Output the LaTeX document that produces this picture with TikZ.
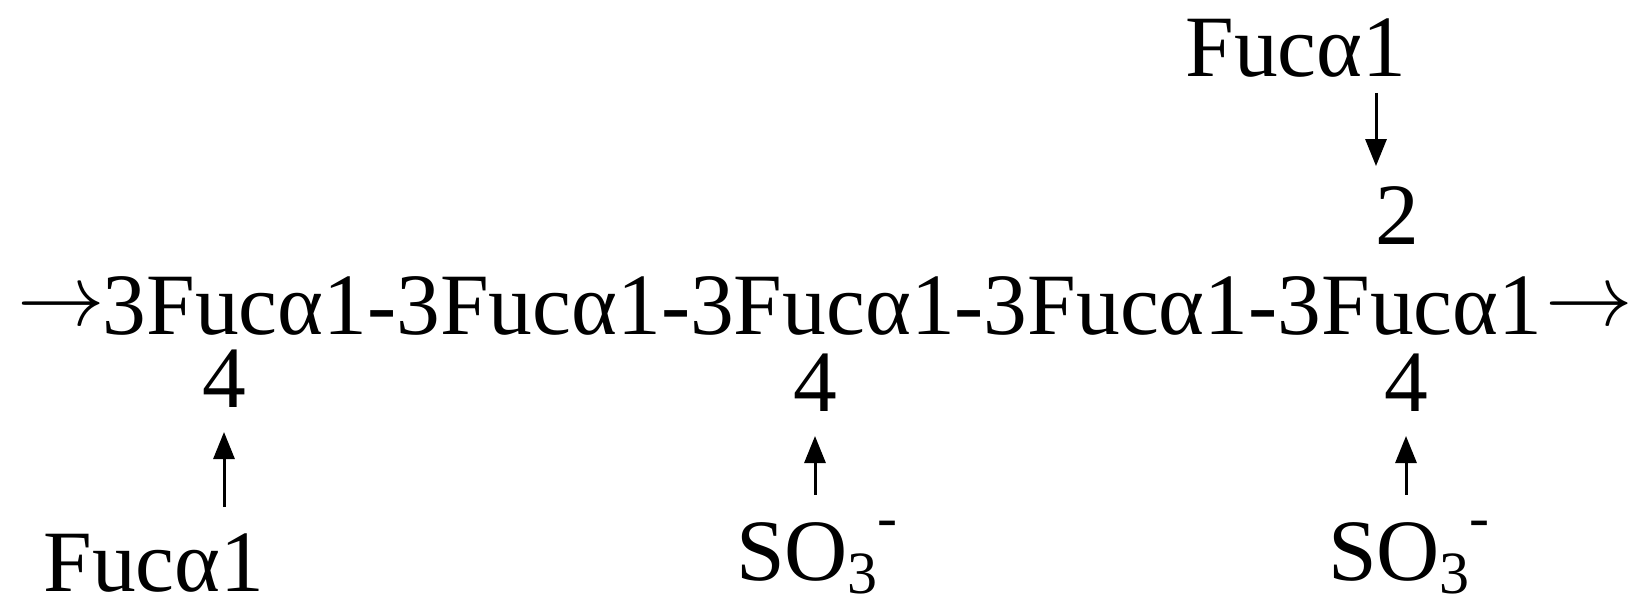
\documentclass[tikz,border=0pt]{standalone}
\usepackage{fontspec}
\setmainfont{Liberation Serif}
\usetikzlibrary{arrows.meta}
\newcommand{\subthree}{\raisebox{-13pt}{\fontsize{60}{60}\selectfont 3}}
\newcommand{\supminus}{\raisebox{43pt}{\fontsize{60}{60}\selectfont -}}
\newcommand{\bigarrow}{\scalebox{8.75}{\fontsize{10}{12}\selectfont$\rightarrow$}}
\begin{document}
\begin{tikzpicture}[x=1pt,y=-1pt,
  every node/.style={inner sep=0pt, outer sep=0pt, font=\fontsize{87.5}{100}\selectfont},
  link/.style={line width=3pt, -{Triangle[length=27pt,width=21pt]}}]
\useasboundingbox (0,0) rectangle (1644,602);
% main chain
\node[anchor=base] (chain) at (822.5,334) {3Fucα1-3Fucα1-3Fucα1-3Fucα1-3Fucα1};
\node (inarrow) at (61,309) {\bigarrow};
\node (outarrow) at (1589,309) {\bigarrow};
% position numbers
\node[anchor=base] (n4a) at (224,407) {4};
\node[anchor=base] (n4b) at (815,411) {4};
\node[anchor=base] (n4c) at (1406,411) {4};
\node[anchor=base] (n2) at (1397,244) {2};
% substituents
\node[anchor=base] (fb) at (154,591) {Fucα1};
\node[anchor=base west] (s1) at (736,580) {SO\subthree\supminus};
\node[anchor=base west] (s2) at (1328,580) {SO\subthree\supminus};
\node[anchor=base] (ft) at (1296,77) {Fucα1};
\coordinate (c2) at (1376,0);
% connectors
\draw[link, shorten <=26pt, shorten >=25pt] (n4a.south |- fb.north) -- (n4a.south);
\draw[link, shorten <=26pt, shorten >=25pt] (n4b.south |- s1.north) -- (n4b.south);
\draw[link, shorten <=26pt, shorten >=25pt] (n4c.south |- s2.north) -- (n4c.south);
\draw[link, shorten <=15pt, shorten >=20pt] (ft.south -| c2) -- (n2.north -| c2);
\end{tikzpicture}
\end{document}
